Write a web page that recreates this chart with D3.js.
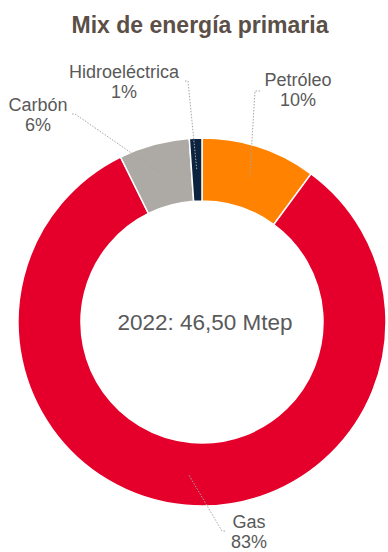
<!DOCTYPE html>
<html>
<head>
<meta charset="utf-8">
<script src="https://cdn.jsdelivr.net/npm/d3@7"></script>
<style>
  body { margin: 0; background: #fff; }
  text { font-family: "Liberation Sans", Arial, sans-serif; }
</style>
</head>
<body>
<div class="chart"></div>
<script>
var categories = ["Petróleo", "Gas", "Carbón", "Hidroeléctrica"];
var shares = [10.1, 82.6, 6.2, 1.1];
var colors = ["#FF8200", "#E4002B", "#ADA9A5", "#0C2340"];
var totalLabel = "2022: 46,50 Mtep";

// where each label sits, and the elbow of its leader line
var labelPos = [
  { x: 298, y: 86, elbow: [[260, 91], [255, 91]] },
  { x: 249, y: 528, elbow: [[225, 531], [222, 531]] },
  { x: 38, y: 111, elbow: [[72, 114], [75, 114]] },
  { x: 124, y: 78, elbow: [[185, 81], [188, 81]] }
];

var svgWidth = 388;
var svgHeight = 552;
var cx = 202, cy = 322;
var outerR = 184, innerR = 121;

var svg = d3.select(".chart")
  .append("svg")
  .attr("width", svgWidth)
  .attr("height", svgHeight);

svg.append("text")
  .attr("x", svgWidth / 2 + 6)
  .attr("y", 33)
  .attr("text-anchor", "middle")
  .attr("font-size", "23px")
  .attr("font-weight", "bold")
  .attr("fill", "#5B4F47")
  .text("Mix de energía primaria");

var data = categories.map(function(c, i) {
  return { name: c, value: shares[i], color: colors[i], pos: labelPos[i] };
});

var pie = d3.pie()
  .sort(null)
  .value(d => d.value);

var arc = d3.arc()
  .innerRadius(innerR)
  .outerRadius(outerR);

var chartGroup = svg.append("g")
  .attr("transform", `translate(${cx}, ${cy})`);

var arcs = pie(data);

chartGroup.selectAll("path.slice")
  .data(arcs)
  .enter()
  .append("path")
  .attr("class", "slice")
  .attr("d", arc)
  .attr("fill", d => d.data.color)
  .attr("stroke", "#fff")
  .attr("stroke-width", 1.5);

// leader lines end inside the ring, on the slice's middle angle
var leaderR = 153;
svg.selectAll("polyline.leader")
  .data(arcs)
  .enter()
  .append("polyline")
  .attr("class", "leader")
  .attr("points", function(d) {
    var a = (d.startAngle + d.endAngle) / 2;
    var end = [cx + leaderR * Math.sin(a), cy - leaderR * Math.cos(a)];
    return d.data.pos.elbow.concat([end]).map(p => p.join(",")).join(" ");
  })
  .attr("fill", "none")
  .attr("stroke", "#A6A6A6")
  .attr("stroke-width", 1)
  .attr("stroke-dasharray", "1.5,1.5");

var labels = svg.selectAll("g.label")
  .data(arcs)
  .enter()
  .append("g")
  .attr("class", "label");

labels.append("text")
  .attr("x", d => d.data.pos.x)
  .attr("y", d => d.data.pos.y)
  .attr("text-anchor", "middle")
  .attr("font-size", "18px")
  .attr("fill", "#595959")
  .text(d => d.data.name);

labels.append("text")
  .attr("x", d => d.data.pos.x)
  .attr("y", d => d.data.pos.y + 20)
  .attr("text-anchor", "middle")
  .attr("font-size", "18px")
  .attr("fill", "#595959")
  .text(d => Math.round(d.data.value) + "%");

chartGroup.append("text")
  .attr("x", 3)
  .attr("y", 8)
  .attr("text-anchor", "middle")
  .attr("font-size", "22.5px")
  .attr("fill", "#595959")
  .text(totalLabel);
</script>
</body>
</html>
